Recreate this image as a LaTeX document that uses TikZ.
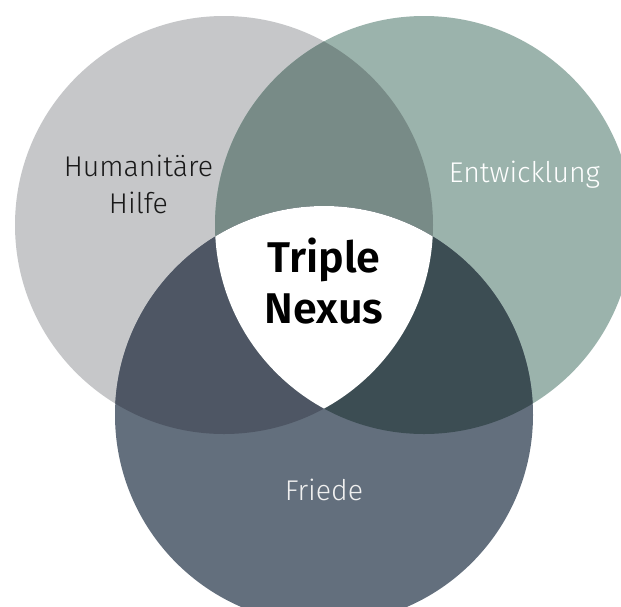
\documentclass[tikz,border=0pt]{standalone}
\usepackage{fontspec}
\setmainfont{Fira Sans}[UprightFont=* Light, BoldFont=* SemiBold]
\usepackage{xcolor}
\definecolor{hilfegray}{HTML}{C6C7C9}
\definecolor{entwgreen}{HTML}{9BB3AC}
\definecolor{friedeslate}{HTML}{636F7D}
\definecolor{hilfeentw}{HTML}{788B87}
\definecolor{hilfefriede}{HTML}{4E5664}
\definecolor{entwfriede}{HTML}{3C4D53}

\begin{document}
\begin{tikzpicture}[x=1pt, y=-1pt,
            label/.style={align=center, anchor=base, font=\fontsize{28.5}{37}\selectfont},
            nexus/.style={align=center, anchor=base, font=\fontsize{43}{51}\selectfont\bfseries}]
            \fill[white] (0,0) rectangle (621,606);
            \useasboundingbox (0,0) rectangle (621,606);
            \def\hilfe{(224,225) circle (209pt)}
            \def\entw{(424,225) circle (209pt)}
            \def\friede{(324,415) circle (209pt)}
            % the three circles
            \fill[hilfegray] \hilfe;
            \fill[entwgreen] \entw;
            \fill[friedeslate] \friede;
            % overlaps
            \begin{scope} \clip \hilfe; \fill[hilfeentw] \entw; \end{scope}
            \begin{scope} \clip \hilfe; \fill[hilfefriede] \friede; \end{scope}
            \begin{scope} \clip \entw; \fill[entwfriede] \friede; \end{scope}
            \begin{scope} \clip \hilfe; \clip \entw; \fill[white] \friede; \end{scope}
            % texts
            \node[label, text=black!90] (hilfe) at (138.5,213) {Humanitäre\\Hilfe};
            \node[label, text=white] (entw) at (524.5,182) {Entwicklung};
            \node[label, text=white!94!black] (friede) at (324,500) {Friede};
            \node[nexus, text=black] (nexus) at (324,323) {Triple\\Nexus};
\end{tikzpicture}
\end{document}
